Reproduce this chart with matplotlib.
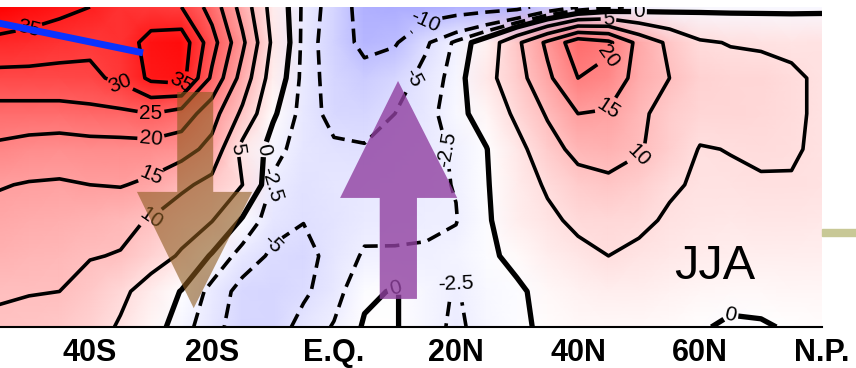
import numpy as np
import matplotlib
matplotlib.use("Agg")
import matplotlib.pyplot as plt
from matplotlib.patches import Polygon, Rectangle

plt.rcParams['font.family'] = ['Liberation Sans', 'DejaVu Sans']

# ---------- data ----------
lats = np.arange(-55, 81, 5)            # 28 columns
plevs = np.arange(100, 1001, 100)       # 10 rows, top -> bottom

psi = np.array([
    # -55   -50   -45   -40   -35   -30   -25   -20   -15   -10    -5     0     5    10    15    20    25    30    35    40    45    50    55    60    65    70    75    80
    [40.0, 38.0, 36.5, 35.0, 32.0, 31.0, 30.0, 23.0, 13.0,  3.0, -3.0, -6.5,-12.5,-13.0,-13.0,-12.5,-12.0,-11.5, -8.0, -5.0, -3.0, -2.0, -1.5, -1.0, -1.0, -1.0, -1.0, -1.0],
    [33.5, 33.0, 32.0, 31.0, 32.0, 37.0, 38.0, 27.0, 16.0,  4.0, -3.2, -7.0,-11.5,-10.5, -5.5, -2.0,  2.0,  9.0, 16.0, 23.0, 21.0, 13.5,  9.0,  5.5,  4.8,  4.5,  4.2,  4.5],
    [28.5, 28.5, 28.5, 29.0, 31.0, 36.0, 37.0, 24.0, 13.0,  2.5, -3.3, -6.5, -8.0, -6.5, -4.0, -1.5,  3.5,  8.0, 14.0, 20.0, 18.5, 13.0, 10.0,  7.0,  6.5,  6.5,  5.6,  4.4],
    [23.0, 23.0, 23.0, 23.5, 24.0, 25.0, 23.0, 17.0,  9.0,  0.5, -3.5, -6.0, -6.5, -5.0, -3.5, -1.0,  1.5,  6.0, 10.5, 15.0, 14.5, 11.0,  8.0,  6.5,  6.5,  6.0,  5.5,  4.5],
    [19.0, 18.0, 17.5, 18.0, 18.0, 18.0, 17.0, 13.5,  3.5, -1.5, -3.8, -4.5, -4.7, -3.8, -3.2, -2.2, -0.1,  3.5,  8.0, 11.5, 12.0, 10.5,  7.5,  4.8,  5.1,  5.5,  5.3,  4.5],
    [15.3, 14.7, 14.5, 15.0, 15.3, 14.0, 11.0,  8.5,  5.0, -3.0, -4.5, -4.0, -3.5, -3.2, -3.0, -2.4, -0.3,  3.0,  5.5,  8.0,  9.0,  7.5,  5.5,  4.5,  4.5,  4.7,  4.8,  4.5],
    [13.5, 13.0, 12.8, 12.0, 11.0,  9.7,  7.0,  5.2, -0.5, -4.0, -4.9, -4.2, -3.3, -3.0, -2.8, -2.6, -0.5,  2.5,  4.2,  5.8,  6.2,  5.8,  4.5,  3.8,  3.7,  3.8,  3.8,  3.5],
    [12.0, 11.5, 11.0, 10.2,  9.8,  7.0,  4.5, -0.5, -3.5, -5.5, -6.0, -4.0, -2.2, -2.3, -2.3, -1.8, -0.6,  0.8,  2.5,  4.0,  5.0,  4.2,  3.5,  3.0,  2.8,  2.8,  2.8,  2.5],
    [10.3, 10.1, 10.0,  8.5,  6.0,  3.0, -0.2, -3.3, -6.0, -6.5, -5.5, -3.5, -0.5,  0.2, -1.5, -2.7, -1.2, -0.5,  1.0,  2.0,  2.5,  2.5,  2.0,  1.5,  1.0,  1.0,  1.3,  1.5],
    [ 9.5,  9.3,  8.5,  7.0,  4.5,  1.5, -1.5, -4.0, -6.5, -6.5, -4.0, -2.3,  0.3,  0.2, -1.5, -3.0, -1.5, -0.5,  0.5,  1.0,  1.2,  1.2,  0.8,  0.3, -0.5, -0.3,  0.3,  0.5],
])

levels = [-10, -5, -2.5, 0, 5, 10, 15, 20, 25, 30, 35, 40]
tick_pos = [-40, -20, 0, 20, 40, 60, 80]
tick_lab = ["40S", "20S", "E.Q.", "20N", "40N", "60N", "N.P."]

# ---------- figure ----------
fig = plt.figure(figsize=(8.56, 3.68), dpi=100)
ax = fig.add_axes([0, 41 / 368, 822 / 856, 320 / 368])

ax.pcolormesh(lats, plevs, psi, cmap="bwr", vmin=-40, vmax=40, shading="gouraud")

styles = [(0, (4, 2)) if lv < 0 else "solid" for lv in levels]
widths = [3.8 if lv == 0 else 2.6 for lv in levels]
cs = ax.contour(lats, plevs, psi, levels=levels, colors="k",
                linestyles=styles, linewidths=widths)
ax.clabel(cs, fmt="%g", fontsize=15, inline=True, inline_spacing=2)

# arrows (semi-transparent overlays)
brown = [(-25.7, 339), (-19.8, 339), (-19.8, 620), (-13.4, 620), (-23.0, 947),
         (-32.3, 620), (-25.7, 620)]
ax.add_patch(Polygon(brown, closed=True, facecolor="#8c5a1e", alpha=0.6,
                     edgecolor="none", zorder=5))
purple = [(7.5, 921), (13.6, 921), (13.6, 637), (20.2, 637), (10.5, 308),
          (1.0, 637), (7.5, 637)]
ax.add_patch(Polygon(purple, closed=True, facecolor="#9040a0", alpha=0.8,
                     edgecolor="none", zorder=5))

# blue line
ax.plot([-57, -31.3], [138, 229], color="#0a32ff", lw=5, solid_capstyle="butt",
        zorder=6, clip_on=True)

ax.text(62.5, 831, "JJA", fontsize=35, ha="center", va="center", zorder=7)

ax.set_xlim(-54.75, 80)
ax.set_ylim(1000, 100)
ax.set_yticks([])
ax.set_xticks(tick_pos)
ax.set_xticklabels(tick_lab, fontsize=22, fontweight="bold")
ax.tick_params(axis="x", length=0, pad=8)
for s in ["top", "left", "right"]:
    ax.spines[s].set_visible(False)
ax.spines["bottom"].set_linewidth(1.5)

# khaki bar at the right edge
fig.patches.append(Rectangle((822 / 856, (368 - 236) / 368), 34 / 856, 7 / 368,
                             transform=fig.transFigure, color="#c8c896"))

fig.savefig("out.png", dpi=100)
